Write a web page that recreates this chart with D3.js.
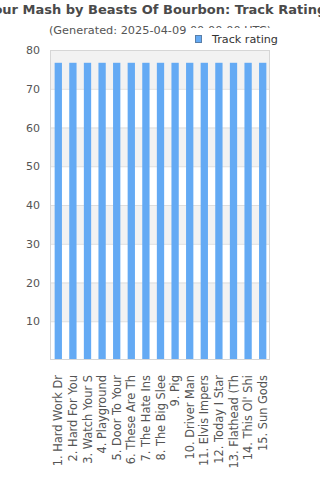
<!DOCTYPE html>
<html>
<head>
<meta charset="utf-8">
<script src="https://cdn.jsdelivr.net/npm/d3@7"></script>
<style>
  body { margin: 0; background: #fff; }
  svg text { font-family: "DejaVu Sans", sans-serif; }
</style>
</head>
<body>
<div id="chart"></div>
<script>
// track names (truncated as in the chart)
const tracks = ["1. Hard Work Dr", "2. Hard For You", "3. Watch Your S", "4. Playground",
    "5. Door To Your", "6. These Are Th", "7. The Hate Ins", "8. The Big Slee", "9. Pig",
    "10. Driver Man", "11. Elvis Impers", "12. Today I Star", "13. Flathead (Th",
    "14. This Ol' Shi", "15. Sun Gods"];
const ratings = [76.7, 76.7, 76.7, 76.7, 76.7, 76.7, 76.7, 76.7, 76.7, 76.7, 76.7, 76.7, 76.7, 76.7, 76.7];
const yTicks = [10, 20, 30, 40, 50, 60, 70, 80];
const bands = [[70, 80], [50, 60], [30, 40], [10, 20]];

const W = 320, H = 480;
const svg = d3.select("#chart").append("svg")
    .attr("width", W)
    .attr("height", H);

const x = d3.scaleBand()
    .domain(tracks)
    .range([51, 270])
    .paddingInner(0.5)
    .paddingOuter(0.25);

const y = d3.scaleLinear()
    .domain([0, 80])
    .range([360, 50]);

// alternating background bands
svg.selectAll(".band")
    .data(bands)
    .enter()
    .append("rect")
    .attr("x", 50)
    .attr("width", 220)
    .attr("y", d => y(d[1]))
    .attr("height", d => y(d[0]) - y(d[1]))
    .attr("fill", "#f2f2f2");

// grid lines
svg.selectAll(".grid")
    .data(yTicks)
    .enter()
    .append("line")
    .attr("x1", 50).attr("x2", 270)
    .attr("y1", d => y(d) + 0.5).attr("y2", d => y(d) + 0.5)
    .attr("stroke", "#dedede");

// bars
svg.selectAll(".bar")
    .data(ratings)
    .enter()
    .append("rect")
    .attr("x", (d, i) => x(tracks[i]))
    .attr("width", x.bandwidth())
    .attr("y", d => y(d))
    .attr("height", d => y(0) - y(d))
    .attr("fill", "#64aaf4");

// plot frame
svg.append("rect")
    .attr("x", 50.5).attr("y", 50.5)
    .attr("width", 219).attr("height", 309)
    .attr("fill", "none")
    .attr("stroke", "#d6d6d6");

// y axis
const yAxis = d3.axisLeft(y).tickValues(yTicks).tickSize(0).tickPadding(10);
const gy = svg.append("g")
    .attr("transform", "translate(50,0)")
    .call(yAxis);
gy.select(".domain").remove();
gy.selectAll("text")
    .attr("fill", "#555")
    .style("font-size", "11px");

// x axis labels
const xAxis = d3.axisBottom(x).tickSize(0).tickPadding(0);
const gx = svg.append("g")
    .attr("transform", "translate(0,360)")
    .call(xAxis);
gx.select(".domain").remove();
gx.selectAll("text")
    .attr("transform", "rotate(-90)")
    .attr("x", -15)
    .attr("y", 0)
    .attr("dy", "0.35em")
    .style("text-anchor", "end")
    .attr("fill", "#555")
    .style("font-size", "11.4px");

// title
svg.append("text")
    .attr("x", 159)
    .attr("y", 14)
    .style("text-anchor", "middle")
    .style("font-size", "13px")
    .style("font-weight", "bold")
    .attr("fill", "#4a4a4a")
    .text("Sour Mash by Beasts Of Bourbon: Track Ratings");

svg.append("text")
    .attr("x", W / 2)
    .attr("y", 34)
    .style("text-anchor", "middle")
    .style("font-size", "11.3px")
    .attr("fill", "#555")
    .text("(Generated: 2025-04-09 00:00:00 UTC)");

// legend
const legend = svg.append("g");
legend.append("rect")
    .attr("x", 189).attr("y", 28)
    .attr("width", 96).attr("height", 20)
    .attr("fill", "#fff");
legend.append("rect")
    .attr("x", 195.5).attr("y", 35.5)
    .attr("width", 6).attr("height", 7)
    .attr("fill", "#64aaf4")
    .attr("stroke", "#5a7fa8");
legend.append("text")
    .attr("x", 212)
    .attr("y", 43)
    .style("font-size", "11.2px")
    .attr("fill", "#333")
    .text("Track rating");
</script>
</body>
</html>
